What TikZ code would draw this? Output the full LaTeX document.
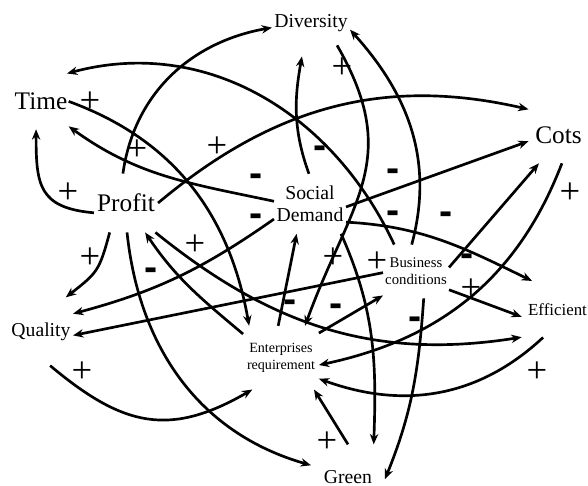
\documentclass[tikz,border=0pt]{standalone}
\usepackage{fontspec}
\setmainfont{Liberation Serif}
\newfontfamily\signfont{Liberation Sans}
\usetikzlibrary{arrows.meta}

\begin{document}
\begin{tikzpicture}[
    x=0.025cm, y=0.025cm,
    >={Stealth[length=2.6mm,width=2.1mm]},
    var/.style={outer sep=0pt, align=center},
    arr/.style={->, line width=1.9pt},
    signp/.style={font=\fontsize{26}{26}\selectfont, inner sep=0pt},
    signm/.style={font=\signfont\bfseries\fontsize{28}{28}\selectfont, inner sep=0pt}
]
    \useasboundingbox (0,0) rectangle (588,486);

    % variables
    \node[var, font=\fontsize{18}{20}\selectfont, inner xsep=1pt, inner ysep=13.8pt]
        (time) at (41,384.6) {Time};
    \node[var, font=\fontsize{18}{20}\selectfont, inner xsep=2.3pt, inner ysep=14.5pt]
        (profit) at (126,283) {Profit};
    \node[var, font=\fontsize{14}{16}\selectfont, inner xsep=1.7pt, inner ysep=9.4pt]
        (diversity) at (311,462.5) {Diversity};
    \node[var, font=\fontsize{18}{20}\selectfont, inner xsep=4.8pt, inner ysep=13.8pt]
        (cots) at (558.5,350.6) {Cots};
    \node[var, font=\fontsize{14}{16}\selectfont, inner xsep=1.9pt, inner ysep=8.4pt]
        (social) at (310,282.2) {Social\\Demand};
    \node[var, font=\fontsize{10.5}{12}\selectfont, inner xsep=1.6pt, inner ysep=9.6pt]
        (business) at (416,214.5) {Business\\conditions};
    \node[var, font=\fontsize{12}{14}\selectfont, inner xsep=4.6pt, inner ysep=15.8pt]
        (efficient) at (557.5,176.8) {Efficient};
    \node[var, font=\fontsize{14}{16}\selectfont, inner xsep=1.8pt, inner ysep=17.9pt]
        (quality) at (41,154.5) {Quality};
    \node[var, font=\fontsize{10}{11.8}\selectfont, inner xsep=2.8pt, inner ysep=12.4pt]
        (enterprises) at (281,128.3) {Enterprises\\requirement};
    \node[var, font=\fontsize{14}{16}\selectfont, inner xsep=9.2pt, inner ysep=18.7pt]
        (green) at (348,8.7) {Green};

    % links
    \draw[arr] (profit.96) to[out=82, in=190] (diversity.186);
    \draw[arr] (business.129) to[out=115, in=15] (time.47);
    \draw[arr] (time.0) to[out=340, in=100] (enterprises.135);
    \draw[arr] (social.176) to[out=168, in=324] (time.318);
    \draw[arr] (profit.197) to[out=175, in=270, looseness=1.4] (time.260);
    \draw[arr] (profit.0) to[out=40, in=167] (cots.139);
    \draw[arr] (social.355) -- (cots.191);
    \draw[arr] (diversity.320) to[out=300, in=70, looseness=1.2] (enterprises.53);
    \draw[arr] (business.99) to[out=75, in=312] (diversity.351);
    \draw[arr, shorten >=8pt] (social.92) to[out=110, in=260] (diversity.252);
    \draw[arr] (social.203) to[out=215, in=15] (quality.29);
    \draw[arr] (business.182) -- (quality.353);
    \draw[arr] (profit.241) to[out=255, in=38, looseness=1.3] (quality.54);
    \draw[arr] (profit.272) to[out=276, in=164] (green.162);
    \draw[arr] (enterprises.148) to[out=140, in=304] (profit.303);
    \draw[arr] (profit.315) to[out=321, in=189] (efficient.218);
    \draw[arr] (efficient.243) to[out=223, in=340] (enterprises.331);
    \draw[arr] (cots.277) to[out=249, in=12] (enterprises.349);
    \draw[arr] (business.7) -- (cots.235);
    \draw[arr] (business.331) -- (efficient.192);
    \draw[arr] (social.333) to[out=357, in=154] (efficient.132);
    \draw[arr] (enterprises.95) -- (social.246);
    \draw[arr] (enterprises.33) -- (business.216);
    \draw[arr] (quality.285) to[out=320, in=210, looseness=1.2] (enterprises.228);
    \draw[arr] (green.90) -- (enterprises.316);
    \draw[arr] (business.286) to[out=266, in=68] (green.357);
    \draw[arr] (social.316) to[out=294, in=88] (green.52);

    % polarities
    \node[signp] (p1) at (90,384) {+};
    \node[signp] (p2) at (137,336) {+};
    \node[signp] (p3) at (217,339) {+};
    \node[signp] (p4) at (68,293) {+};
    \node[signp] (p5) at (90,228) {+};
    \node[signp] (p6) at (195,241) {+};
    \node[signp] (p7) at (342,418) {+};
    \node[signp] (p8) at (333,228) {+};
    \node[signp] (p9) at (377,224) {+};
    \node[signp] (p10) at (471,197) {+};
    \node[signp] (p11) at (570,293) {+};
    \node[signp] (p12) at (537,114) {+};
    \node[signp] (p13) at (82,114) {+};
    \node[signp] (p14) at (327,44) {+};

    \node[signm] (m1) at (256,306) {-};
    \node[signm] (m2) at (320,334) {-};
    \node[signm] (m3) at (393,311) {-};
    \node[signm] (m4) at (393,269) {-};
    \node[signm] (m5) at (446,268) {-};
    \node[signm] (m6) at (256,266) {-};
    \node[signm] (m7) at (151,212) {-};
    \node[signm] (m8) at (290,180) {-};
    \node[signm] (m9) at (336,176) {-};
    \node[signm] (m10) at (467,226) {-};
    \node[signm] (m11) at (415,163) {-};
\end{tikzpicture}
\end{document}
